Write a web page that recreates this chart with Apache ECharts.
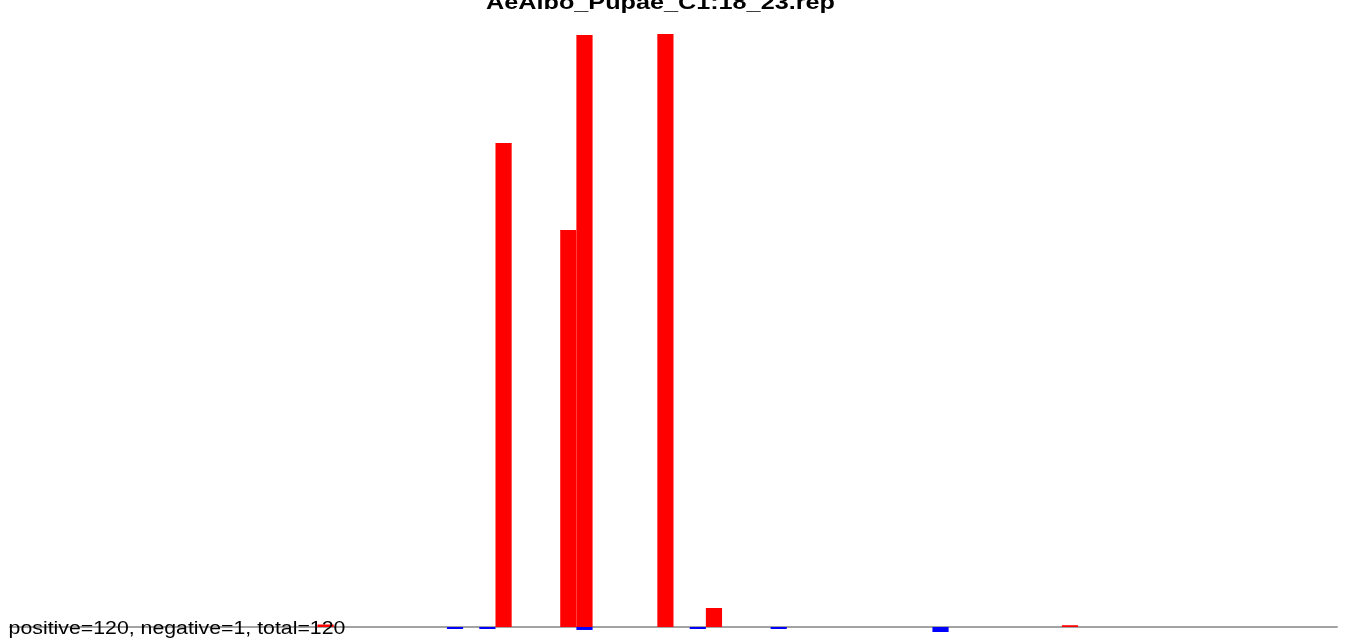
<!DOCTYPE html>
<html>
<head>
<meta charset="utf-8">
<script src="https://cdn.jsdelivr.net/npm/echarts@6/dist/echarts.min.js"></script>
<style>
html,body{margin:0;padding:0;background:#fff;}
#chart{width:1350px;height:643px;}
</style>
</head>
<body>
<div id="chart"></div>
<script>
// ---- data ----
const titleText = 'AeAlbo_Pupae_C1:18_23.rep';
const footText = 'positive=120, negative=1, total=120';
const binCount = 82;
const positiveBins   = [19,   30,   34,   35,    40,  43,  65];
const positiveValues = [0.42, 81.6, 66.95, 99.83, 100, 3.2, 0.3];
const negativeBins   = [27,    29,    35,   42,    47,    57];
const negativeValues = [-0.34, -0.34, -0.5, -0.34, -0.34, -0.84];

// ---- build full series from the sparse lists ----
const categories = [];
const posData = [];
const negData = [];
for (let i = 0; i < binCount; i++) { categories.push(String(i + 1)); posData.push(0); negData.push(0); }
positiveBins.forEach((b, k) => { posData[b] = positiveValues[k]; });
negativeBins.forEach((b, k) => { negData[b] = negativeValues[k]; });

const chart = echarts.init(document.getElementById('chart'), null, {renderer: 'canvas'});
chart.setOption({
  animation: false,
  backgroundColor: '#ffffff',
  grid: {left: 10, right: 13, top: 34, bottom: 4.14, containLabel: false, outerBoundsMode: 'none'},
  xAxis: {
    type: 'category',
    data: categories,
    boundaryGap: true,
    axisLine: {show: true, onZero: true, lineStyle: {color: '#a3a3a3', width: 2}},
    axisTick: {show: false},
    axisLabel: {show: false},
    splitLine: {show: false}
  },
  yAxis: {
    type: 'value',
    min: -2,
    max: 100,
    show: false,
    splitLine: {show: false}
  },
  series: [
    {
      type: 'bar', name: 'positive', stack: 'all', data: posData,
      barWidth: '100%', barCategoryGap: '0%',
      itemStyle: {color: '#ff0000'}, silent: true
    },
    {
      type: 'bar', name: 'negative', stack: 'all', data: negData,
      barWidth: '100%', barCategoryGap: '0%',
      itemStyle: {color: '#0000ff'}, silent: true
    }
  ],
  graphic: [
    {
      type: 'text', x: 660.5, y: 3.3, scaleX: 1.2, z: 100,
      style: {text: titleText, x: 0, y: 0, align: 'center', verticalAlign: 'middle',
        font: 'bold 21px "Liberation Sans", Arial, sans-serif', fill: '#000'}
    },
    {
      type: 'text', x: 8.6, y: 629.4, scaleX: 1.21, z: 100,
      style: {text: footText, x: 0, y: 0, align: 'left', verticalAlign: 'middle',
        font: '17.6px "Liberation Sans", Arial, sans-serif', fill: '#000'}
    }
  ]
});
</script>
</body>
</html>
